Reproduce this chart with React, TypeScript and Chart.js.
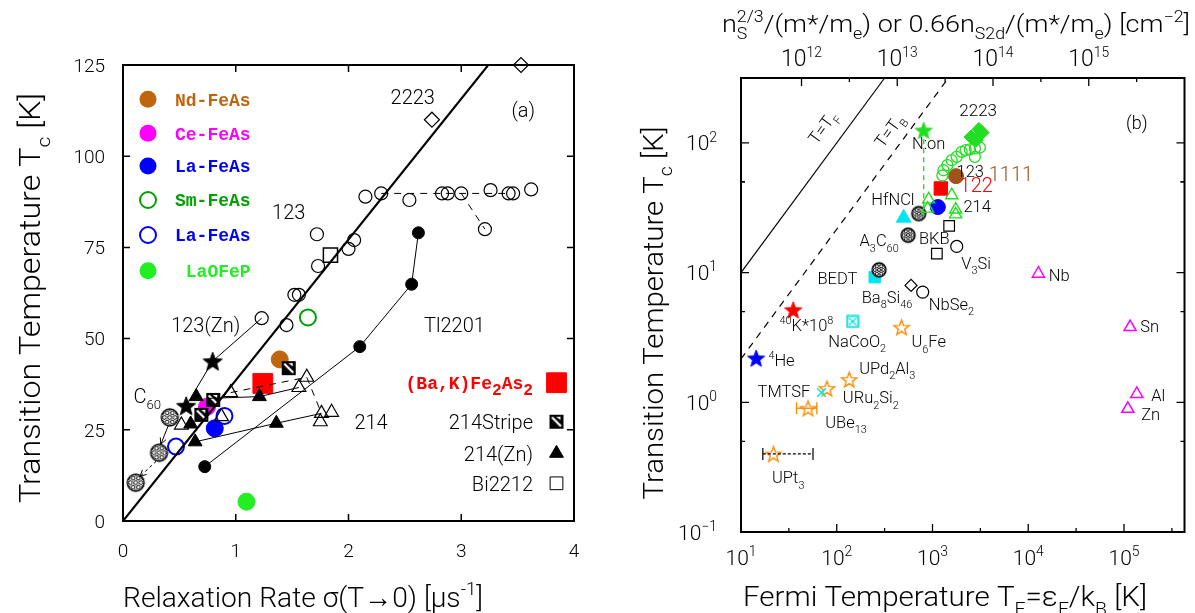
import React, { useEffect, useRef } from "react";
import { Chart, registerables } from "chart.js";
import { drawPoint } from "chart.js/helpers";
Chart.register(...registerables);

// ================= Panel (a) data =================
const fitX = [0, 3.24];
const fitY = [0, 125];
const d2223X = [2.74, 3.53];
const d2223Y = [110, 125];
const c123X = [2.15, 2.29, 2.54, 2.83, 2.88, 3.0, 3.26, 3.42, 3.46, 3.62, 3.21, 1.72, 2.05, 2.0, 1.73, 1.52, 1.56, 1.45, 1.23];
const c123Y = [88.9, 89.8, 88.0, 89.8, 89.8, 89.8, 90.7, 89.8, 89.8, 90.9, 80.0, 78.6, 77.0, 74.6, 69.9, 62.0, 62.0, 53.7, 55.6];
const dash123aX = [2.29, 3.44];
const dash123aY = [89.8, 89.8];
const dash123bX = [3.0, 3.21];
const dash123bY = [89.8, 80.0];
const tl2201X = [0.725, 2.1, 2.56, 2.62];
const tl2201Y = [14.9, 47.8, 64.9, 79.0];
const zn123LineX = [1.23, 0.795, 0.56];
const zn123LineY = [55.6, 43.8, 31.6];
const zn123StarX = [0.795, 0.56];
const zn123StarY = [43.8, 31.6];
const c60X = [0.415, 0.32, 0.113];
const c60Y = [28.4, 18.7, 10.5];
const c60Arrow1X = [0.4, 0.335];
const c60Arrow1Y = [26.0, 21.0];
const c60Arrow2X = [0.295, 0.15];
const c60Arrow2Y = [16.4, 12.2];
const t214X = [1.63, 1.56, 0.955, 1.76, 1.85, 1.75, 0.518, 0.873];
const t214Y = [39.4, 36.6, 35.2, 29.5, 29.8, 27.2, 26.3, 28.6];
const dash214aX = [0.955, 1.63];
const dash214aY = [35.2, 39.4];
const dash214bX = [1.63, 1.76];
const dash214bY = [39.4, 29.5];
const zn214X = [0.65, 1.21, 0.6, 1.36, 0.64];
const zn214Y = [34.1, 34.1, 26.6, 26.8, 21.7];
const zn214LineAX = [0.75, 1.21, 1.56];
const zn214LineAY = [33.6, 34.1, 36.6];
const zn214LineBX = [0.64, 1.36, 1.76];
const zn214LineBY = [21.7, 26.8, 29.5];
const stripeX = [1.47, 0.8, 0.695];
const stripeY = [41.9, 33.2, 29.1];
const bi2212X = [1.84];
const bi2212Y = [72.9];
const ndX = [1.39];
const ndY = [44.3];
const bakX = [1.24];
const bakY = [37.7];
const ceX = [0.745];
const ceY = [31.3];
const laFX = [0.814];
const laFY = [25.4];
const laOX = [0.9, 0.47];
const laOY = [28.8, 20.4];
const smX = [1.64];
const smY = [55.8];
const lafepX = [1.095];
const lafepY = [5.3];

const aXTicks = [0, 1, 2, 3, 4];
const aYTicks = [0, 25, 50, 75, 100, 125];
const aLegendTop = ["Nd-FeAs", "Ce-FeAs", "La-FeAs", "Sm-FeAs", "La-FeAs", " LaOFeP"];
const aLegendBottom = ["(Ba,K)Fe_2As_2", "214Stripe", "214(Zn)", "Bi2212"];
const aNotes = [
  { t: "2223", x: 2.57, y: 116.2 },
  { t: "(a)", x: 3.55, y: 112.7 },
  { t: "123", x: 1.47, y: 84.8 },
  { t: "123(Zn)", x: 0.734, y: 53.7 },
  { t: "Tl2201", x: 2.94, y: 53.7 },
  { t: "C_{60}", x: 0.215, y: 34.3 },
  { t: "214", x: 2.2, y: 27.2 },
];

// ================= Panel (b) data =================
const tfX = [10, 316.2];
const tfY = [10, 316.2];
const tbX = [10, 1465];
const tbY = [2.16, 316.2];
const nionX = [809];
const nionY = [125];
const nionDashX = [809, 809];
const nionDashY = [125, 27.7];
const g2223X = [2520, 3050, 3300, 2870];
const g2223Y = [111, 127, 120, 105];
const g123X = [1270, 1303, 1432, 1587, 1790, 2015, 2218, 2460, 2773, 3124, 2773];
const g123Y = [56, 61.5, 67.3, 73.5, 78, 85.3, 87.9, 89, 90.6, 92.1, 78];
const g214X = [912, 889, 1589, 1746, 1746];
const g214Y = [36.7, 31.1, 39.5, 30.6, 28.1];
const b1111X = [1762];
const b1111Y = [55.4];
const b122X = [1222];
const b122Y = [44.5];
const bLaX = [1137];
const bLaY = [32];
const hfnclX = [500];
const hfnclY = [26.4];
const bSoccerX = [718, 556, 277];
const bSoccerY = [28.5, 19.4, 10.5];
const bSquareX = [1493, 1111];
const bSquareY = [22.9, 14.0];
const bCircleX = [1791, 790];
const bCircleY = [15.9, 7.07];
const baSiX = [597];
const baSiY = [7.96];
const bedtX = [249];
const bedtY = [9.2];
const elemX = [12770, 115800, 136000, 109700];
const elemY = [9.8, 3.8, 1.16, 0.89];
const k40X = [35.1];
const k40Y = [5.16];
const he4X = [14.4];
const he4Y = [2.19];
const nacoX = [146.6];
const nacoY = [4.2];
const tmtsfX = [69.3];
const tmtsfY = [1.19];
const heavyX = [475, 135, 78.9, 50.1, 21.8];
const heavyY = [3.79, 1.5, 1.28, 0.9, 0.4];
const ube13ErrX = [38, 62];
const ube13ErrY = [0.9, 0.9];
const upt3ErrX = [16.9, 56.5];
const upt3ErrY = [0.4, 0.4];

const bXTicks = [1, 2, 3, 4, 5];
const bYTicks = [-1, 0, 1, 2];
const bTopTicks = [12, 13, 14, 15];
const bNotes = [
  { t: "2223", x: 3000, y: 178.7, s: 17 },
  { t: "(b)", x: 136000, y: 142.7, s: 18 },
  { t: "N:on", x: 912, y: 100 },
  { t: "123", x: 2480, y: 60.8 },
  { t: "1111", x: 6590, y: 58.1, s: 20, c: "#a0541c" },
  { t: "122", x: 2860, y: 47.1, s: 20, c: "#ff0000" },
  { t: "HfNCl", x: 386, y: 36.7 },
  { t: "214", x: 2930, y: 32.7 },
  { t: "A_3C_{60}", x: 277, y: 17.7 },
  { t: "BKB", x: 1045, y: 18.3 },
  { t: "V_3Si", x: 2860, y: 11.9 },
  { t: "BEDT", x: 101.6, y: 9.08 },
  { t: "Nb", x: 21000, y: 9.64 },
  { t: "Ba_8Si_{46}", x: 335, y: 6.47 },
  { t: "NbSe_2", x: 1578, y: 5.75 },
  { t: "^{40}K*10^8", x: 48.2, y: 3.91 },
  { t: "NaCoO_2", x: 163.6, y: 2.99 },
  { t: "U_6Fe", x: 912, y: 2.94 },
  { t: "Sn", x: 185000, y: 3.86 },
  { t: "^4He", x: 26.5, y: 2.12 },
  { t: "UPd_2Al_3", x: 337, y: 1.84 },
  { t: "TMTSF", x: 28.1, y: 1.21 },
  { t: "URu_2Si_2", x: 227, y: 1.09 },
  { t: "Al", x: 228000, y: 1.14 },
  { t: "Zn", x: 190000, y: 0.81 },
  { t: "UBe_{13}", x: 125, y: 0.71 },
  { t: "UPt_3", x: 31.1, y: 0.264 },
];
const bLineNotes = [
  { t: "T=T_F", x: 71, y: 132 },
  { t: "T=T_B", x: 351, y: 125 },
];

// ================= helpers =================
const SANS = 'Roboto, "Liberation Sans", Arial, sans-serif';
const MONO = '"Liberation Mono", "Courier New", monospace';

type Seg = { t: string; m: number };
function parseRich(s: string): Seg[] {
  const out: Seg[] = [];
  let buf = "";
  let i = 0;
  while (i < s.length) {
    const c = s[i];
    if (c === "_" || c === "^") {
      if (buf) { out.push({ t: buf, m: 0 }); buf = ""; }
      let content = "";
      if (s[i + 1] === "{") {
        const j = s.indexOf("}", i + 2);
        content = s.slice(i + 2, j);
        i = j + 1;
      } else {
        content = s[i + 1];
        i += 2;
      }
      out.push({ t: content, m: c === "_" ? 1 : 2 });
    } else {
      buf += c;
      i++;
    }
  }
  if (buf) out.push({ t: buf, m: 0 });
  return out;
}

function drawRich(ctx: CanvasRenderingContext2D, s: string, x: number, y: number, o: any) {
  const family = o.family || SANS;
  const weight = o.weight || "300";
  const size = o.size;
  const segs = parseRich(s);
  const items: any[] = [];
  let cx = 0;
  let prevSub: any = null;
  for (const sg of segs) {
    const fs = sg.m === 0 ? size : size * (o.subScale || 0.66);
    ctx.font = `${weight} ${fs}px ${family}`;
    const w = ctx.measureText(sg.t).width;
    const dy = sg.m === 1 ? size * 0.32 : sg.m === 2 ? -size * 0.42 : 0;
    if (sg.m === 2 && prevSub) {
      items.push({ t: sg.t, x: prevSub.start, dy, fs });
      cx = prevSub.start + Math.max(prevSub.w, w);
      prevSub = null;
    } else {
      items.push({ t: sg.t, x: cx, dy, fs });
      prevSub = sg.m === 1 ? { start: cx, w } : null;
      cx += w;
    }
  }
  const sx = o.width ? o.width / cx : 1;
  const W = cx * sx;
  ctx.save();
  ctx.translate(x, y);
  if (o.rot) ctx.rotate(o.rot);
  const x0 = o.align === "left" ? 0 : o.align === "right" ? -W : -W / 2;
  ctx.translate(x0, 0);
  ctx.scale(sx, 1);
  ctx.fillStyle = o.color || "#000";
  ctx.textAlign = "left";
  ctx.textBaseline = "alphabetic";
  const base = size * 0.36;
  for (const it of items) {
    ctx.font = `${weight} ${it.fs}px ${family}`;
    ctx.fillText(it.t, it.x, base + it.dy);
  }
  ctx.restore();
}

function mk(size: number) {
  const c = document.createElement("canvas");
  c.width = size;
  c.height = size;
  return [c, c.getContext("2d") as CanvasRenderingContext2D] as const;
}
function starImg(r: number, fill: string | null, stroke: string | null, lw: number) {
  const s = Math.ceil(2 * r + lw + 3);
  const [c, g] = mk(s);
  g.translate(s / 2, s / 2 + r * 0.1);
  g.beginPath();
  for (let i = 0; i < 10; i++) {
    const a = -Math.PI / 2 + (i * Math.PI) / 5;
    const rr = i % 2 === 0 ? r : r * 0.42;
    g.lineTo(rr * Math.cos(a), rr * Math.sin(a));
  }
  g.closePath();
  if (fill) { g.fillStyle = fill; g.fill(); }
  if (stroke) { g.strokeStyle = stroke; g.lineWidth = lw; g.lineJoin = "miter"; g.stroke(); }
  return c;
}
function soccerImg(r: number) {
  const s = Math.ceil(2 * r + 4);
  const [c, g] = mk(s);
  g.translate(s / 2, s / 2);
  g.beginPath();
  g.arc(0, 0, r, 0, Math.PI * 2);
  g.fillStyle = "#fff";
  g.fill();
  g.save();
  g.clip();
  g.strokeStyle = "#000";
  g.lineWidth = 1;
  const sp = r * 0.62;
  for (let j = -2; j <= 2; j++) {
    for (let i = -2; i <= 2; i++) {
      const px = i * sp + (j % 2 ? sp / 2 : 0);
      const py = j * sp * 0.87;
      g.beginPath();
      g.arc(px, py, sp * 0.36, 0, Math.PI * 2);
      g.stroke();
    }
  }
  g.restore();
  g.beginPath();
  g.arc(0, 0, r, 0, Math.PI * 2);
  g.lineWidth = 1.3;
  g.strokeStyle = "#000";
  g.stroke();
  return c;
}
function stripeImg(side: number) {
  const s = side + 2;
  const [c, g] = mk(s);
  g.fillStyle = "#000";
  g.fillRect(1, 1, side, side);
  g.strokeStyle = "#fff";
  g.lineWidth = 2.2;
  g.beginPath();
  g.moveTo(3.5, 3.5);
  g.lineTo(side - 1.5, side - 1.5);
  g.stroke();
  g.fillStyle = "#fff";
  g.beginPath();
  g.moveTo(side * 0.55, 3);
  g.lineTo(side - 2, 3);
  g.lineTo(side - 2, side * 0.45);
  g.closePath();
  g.fill();
  return c;
}
function boxXImg(side: number, color: string) {
  const s = side + 3;
  const [c, g] = mk(s);
  g.strokeStyle = color;
  g.lineWidth = 1.8;
  g.strokeRect(1.5, 1.5, side, side);
  g.lineWidth = 1.3;
  g.beginPath();
  g.moveTo(3.5, 3.5);
  g.lineTo(side - 0.5, side - 0.5);
  g.moveTo(side - 0.5, 3.5);
  g.lineTo(3.5, side - 0.5);
  g.stroke();
  return c;
}

const pts = (xs: number[], ys: number[]) => xs.map((x, i) => ({ x, y: ys[i] }));

function scat(xs: number[], ys: number[], style: any, r: number, fill: string, stroke: string, bw = 1) {
  return {
    data: pts(xs, ys),
    showLine: false,
    pointStyle: style,
    pointRadius: r,
    pointHoverRadius: r,
    backgroundColor: fill,
    borderColor: stroke,
    pointBorderWidth: bw,
    borderWidth: bw,
    clip: false,
  };
}
function line(xs: number[], ys: number[], color: string, w: number, dash: number[] = []) {
  return {
    data: pts(xs, ys),
    showLine: true,
    pointRadius: 0,
    borderColor: color,
    backgroundColor: color,
    borderWidth: w,
    borderDash: dash,
    fill: false,
    clip: false,
  };
}

const NONE = "rgba(0,0,0,0)";

function drawFrame(ctx: CanvasRenderingContext2D, a: any) {
  ctx.save();
  ctx.strokeStyle = "#000";
  ctx.lineWidth = 2;
  ctx.strokeRect(a.left, a.top, a.right - a.left, a.bottom - a.top);
  ctx.restore();
}
function tickX(ctx: CanvasRenderingContext2D, a: any, px: number, len: number, top = true, bottom = true) {
  ctx.beginPath();
  if (bottom) { ctx.moveTo(px, a.bottom); ctx.lineTo(px, a.bottom - len); }
  if (top) { ctx.moveTo(px, a.top); ctx.lineTo(px, a.top + len); }
  ctx.stroke();
}
function tickY(ctx: CanvasRenderingContext2D, a: any, py: number, len: number) {
  ctx.beginPath();
  ctx.moveTo(a.left, py); ctx.lineTo(a.left + len, py);
  ctx.moveTo(a.right, py); ctx.lineTo(a.right - len, py);
  ctx.stroke();
}

// ================= Panel (a) =================
function buildA() {
  const star = starImg(10, "#000", "#000", 1);
  const soccer = soccerImg(8.5);
  const stripe = stripeImg(14);
  const datasets: any[] = [
    line(fitX, fitY, "#000", 2),
    line(dash123aX, dash123aY, "#000", 1, [7, 6]),
    line(dash123bX, dash123bY, "#000", 1, [7, 6]),
    line(dash214aX, dash214aY, "#000", 1, [7, 6]),
    line(dash214bX, dash214bY, "#000", 1, [7, 6]),
    line(zn214LineAX, zn214LineAY, "#000", 1),
    line(zn214LineBX, zn214LineBY, "#000", 1),
    line(zn123LineX, zn123LineY, "#000", 1),
    { ...line(c60Arrow1X, c60Arrow1Y, "#000", 1), arrow: true },
    { ...line(c60Arrow2X, c60Arrow2Y, "#000", 1, [3, 3]), arrow: true },
    { ...scat(tl2201X, tl2201Y, "circle", 6, "#000", "#000"), showLine: true, borderWidth: 1 },
    scat(c123X, c123Y, "circle", 6.5, NONE, "#000", 1.2),
    scat(d2223X, d2223Y, "rectRot", 7.5, NONE, "#000", 1.2),
    scat(bi2212X, bi2212Y, "rect", 10, NONE, "#000", 1.5),
    scat(t214X, t214Y, "triangle", 8, NONE, "#000", 1.2),
    scat(zn214X, zn214Y, "triangle", 8, "#000", "#000", 1),
    scat(zn123StarX, zn123StarY, star, 10, "#000", "#000"),
    scat(c60X, c60Y, soccer, 8, "#fff", "#000"),
    scat(stripeX, stripeY, stripe, 8, "#000", "#000"),
    scat(ndX, ndY, "circle", 8.5, "#c0650f", "#c0650f"),
    scat(bakX, bakY, "rect", 14, "#ff0000", "#ff0000"),
    scat(ceX, ceY, "circle", 8.5, "#ff00ff", "#ff00ff"),
    scat(laFX, laFY, "circle", 8.5, "#0000ff", "#0000ff"),
    scat(laOX, laOY, "circle", 8, NONE, "#0000ff", 2),
    scat(smX, smY, "circle", 8, NONE, "#00a000", 2),
    scat(lafepX, lafepY, "circle", 8.5, "#22ee22", "#22ee22"),
  ];
  const legendColors = ["#c0650f", "#ff00ff", "#0000ff", "#00a000", "#0000ff", "#22ee22"];
  const legendFilled = [true, true, true, false, false, true];
  const plugin = {
    id: "panelA",
    afterDatasetsDraw(chart: any) {
      const { ctx, chartArea: a, scales } = chart;
      const sx = scales.x, sy = scales.y;
      chart.data.datasets.forEach((ds: any, i: number) => {
        if (!ds.arrow) return;
        const m = chart.getDatasetMeta(i).data;
        const p0 = m[m.length - 2], p1 = m[m.length - 1];
        const ang = Math.atan2(p1.y - p0.y, p1.x - p0.x);
        ctx.save();
        ctx.strokeStyle = "#000";
        ctx.lineWidth = 1;
        ctx.beginPath();
        ctx.moveTo(p1.x - 7 * Math.cos(ang - 0.45), p1.y - 7 * Math.sin(ang - 0.45));
        ctx.lineTo(p1.x, p1.y);
        ctx.lineTo(p1.x - 7 * Math.cos(ang + 0.45), p1.y - 7 * Math.sin(ang + 0.45));
        ctx.stroke();
        ctx.restore();
      });
      drawFrame(ctx, a);
      ctx.save();
      ctx.strokeStyle = "#000";
      ctx.lineWidth = 1.5;
      aXTicks.forEach((v) => tickX(ctx, a, sx.getPixelForValue(v), 7));
      aYTicks.forEach((v) => tickY(ctx, a, sy.getPixelForValue(v), 7));
      ctx.restore();
      aXTicks.forEach((v) => drawRich(ctx, String(v), sx.getPixelForValue(v), a.bottom + 29, { size: 19 }));
      aYTicks.forEach((v) => drawRich(ctx, String(v), a.left - 18, sy.getPixelForValue(v), { size: 19, align: "right" }));
      drawRich(ctx, "Transition Temperature T_c [K]", 30, 298, { size: 29, rot: -Math.PI / 2, width: 410 });
      drawRich(ctx, "Relaxation Rate σ(T→0) [μs^{-1}]", 303, 597, { size: 28, width: 360 });
      aNotes.forEach((n) => drawRich(ctx, n.t, sx.getPixelForValue(n.x), sy.getPixelForValue(n.y), { size: 20 }));
      const ly = [34.3, 68.3, 101, 135, 170, 205.7];
      aLegendTop.forEach((t, i) => {
        const px = a.left + 25, py = a.top + ly[i];
        ctx.save();
        ctx.beginPath();
        ctx.arc(px, py, legendFilled[i] ? 8.5 : 8, 0, Math.PI * 2);
        if (legendFilled[i]) { ctx.fillStyle = legendColors[i]; ctx.fill(); }
        else { ctx.strokeStyle = legendColors[i]; ctx.lineWidth = 2; ctx.stroke(); }
        ctx.restore();
        drawRich(ctx, t, a.left + 52, py, { size: 18, family: MONO, weight: "bold", color: legendColors[i], align: "left" });
      });
      const by = [-138.3, -99.3, -67.7, -37.7];
      const mstyles: any[] = ["rect", stripe, "triangle", "rect"];
      const mr = [14, 8, 8, 9];
      const mfill = ["#ff0000", "#000", "#000", NONE];
      aLegendBottom.forEach((t, i) => {
        const py = a.bottom + by[i];
        if (i === 0) {
          drawRich(ctx, t, a.right - 41, py, { size: 18, family: MONO, weight: "bold", color: "#ff0000", align: "right", subScale: 0.9 });
        } else {
          drawRich(ctx, t, a.right - 41, py, { size: 20, align: "right" });
        }
        ctx.save();
        ctx.fillStyle = mfill[i];
        ctx.strokeStyle = i === 0 ? "#ff0000" : "#000";
        drawPoint(ctx, { pointStyle: mstyles[i], rotation: 0, radius: mr[i], borderWidth: 1.5 } as any, a.right - 17.5, py);
        ctx.restore();
      });
    },
  };
  return {
    type: "scatter",
    data: { datasets },
    options: {
      responsive: false,
      animation: false,
      events: [],
      layout: { padding: { left: 123, right: 26, top: 65, bottom: 92 } },
      plugins: { legend: { display: false }, tooltip: { enabled: false } },
      scales: {
        x: { type: "linear", min: 0, max: 4, display: false },
        y: { type: "linear", min: 0, max: 125, display: false },
      },
    },
    plugins: [plugin],
  };
}

// ================= Panel (b) =================
function buildB() {
  const gStar = starImg(9, "#22dd22", "#22dd22", 1);
  const rStar = starImg(9, "#ff0000", "#ff0000", 1);
  const bStar = starImg(9, "#0000ff", "#0000ff", 1);
  const oStar = starImg(8, null, "#ff8c00", 1.4);
  const soccer = soccerImg(7);
  const boxX = boxXImg(11, "#00dddd");
  const G = "#22dd22";
  const datasets: any[] = [
    line(tfX, tfY, "#000", 1.2),
    line(tbX, tbY, "#000", 1.2, [7, 6]),
    line(nionDashX, nionDashY, G, 1.4, [5, 4]),
    { ...line(ube13ErrX, ube13ErrY, "#ff8c00", 1.4), pointStyle: "line", pointRotation: 90, pointRadius: 6, pointBorderWidth: 1.4 },
    { ...line(upt3ErrX, upt3ErrY, "#000", 1.2, [3, 2]), pointStyle: "line", pointRotation: 90, pointRadius: 6, pointBorderWidth: 1.2 },
    scat(g123X, g123Y, "circle", 5.5, NONE, G, 1.3),
    scat(g2223X, g2223Y, "rectRot", 7, G, G, 1),
    scat(g214X, g214Y, "triangle", 7, NONE, G, 1.4),
    scat(nionX, nionY, gStar, 9, G, G),
    scat(b1111X, b1111Y, "circle", 7.5, "#a0541c", "#a0541c"),
    scat(b122X, b122Y, "rect", 9.5, "#ff0000", "#ff0000"),
    scat(bLaX, bLaY, "circle", 7.5, "#0000ff", "#0000ff"),
    scat(hfnclX, hfnclY, "triangle", 8.5, "#00e5ee", "#00e5ee"),
    scat(bSoccerX, bSoccerY, soccer, 7, "#fff", "#000"),
    scat(bSquareX, bSquareY, "rect", 7.5, NONE, "#000", 1.2),
    scat(bCircleX, bCircleY, "circle", 6, NONE, "#000", 1.2),
    scat(baSiX, baSiY, "rectRot", 6, NONE, "#000", 1.2),
    scat(bedtX, bedtY, "rect", 8, "#00e5ee", "#00e5ee"),
    scat(elemX, elemY, "triangle", 7, NONE, "#ff00ff", 1.5),
    scat(k40X, k40Y, rStar, 9, "#f00", "#f00"),
    scat(he4X, he4Y, bStar, 9, "#00f", "#00f"),
    scat(nacoX, nacoY, boxX, 7, NONE, "#00dddd"),
    scat(tmtsfX, tmtsfY, "crossRot", 6, NONE, "#00e5ee", 1.5),
    scat(heavyX, heavyY, oStar, 8, NONE, "#ff8c00"),
  ];
  const plugin = {
    id: "panelB",
    afterDatasetsDraw(chart: any) {
      const { ctx, chartArea: a, scales } = chart;
      const sx = scales.x, sy = scales.y, st = scales.x2;
      drawFrame(ctx, a);
      ctx.save();
      ctx.strokeStyle = "#000";
      ctx.lineWidth = 1.3;
      bXTicks.forEach((e) => {
        tickX(ctx, a, sx.getPixelForValue(10 ** e), 8, false, true);
        tickX(ctx, a, sx.getPixelForValue(10 ** (e + 0.5)), 4, false, true);
      });
      bTopTicks.forEach((e) => {
        tickX(ctx, a, st.getPixelForValue(10 ** e), 8, true, false);
        tickX(ctx, a, st.getPixelForValue(10 ** (e + 0.5)), 4, true, false);
      });
      bYTicks.forEach((e) => {
        tickY(ctx, a, sy.getPixelForValue(10 ** e), 8);
        if (e < 2) tickY(ctx, a, sy.getPixelForValue(5 * 10 ** e), 4);
      });
      tickY(ctx, a, sy.getPixelForValue(50), 4);
      ctx.restore();
      bXTicks.forEach((e) => drawRich(ctx, `10^${e}`, sx.getPixelForValue(10 ** e), a.bottom + 25, { size: 21 }));
      bYTicks.forEach((e) => drawRich(ctx, e < 0 ? `10^{−${-e}}` : `10^${e}`, a.left - 24, sy.getPixelForValue(10 ** e), { size: 21, align: "right" }));
      bTopTicks.forEach((e) => drawRich(ctx, `10^{${e}}`, st.getPixelForValue(10 ** e), a.top - 20, { size: 23, subScale: 0.6 }));
      drawRich(ctx, "Transition Temperature T_c [K]", 53, 313, { size: 28, rot: -Math.PI / 2, width: 373 });
      drawRich(ctx, "Fermi Temperature T_F=ε_F/k_B [K]", 345, 596, { size: 28, width: 404 });
      drawRich(ctx, "n_S^{2/3}/(m*/m_e) or 0.66n_{S2d}/(m*/m_e) [cm^{−2}]", 356, 23, { size: 24, width: 468 });
      bNotes.forEach((n: any) => drawRich(ctx, n.t, sx.getPixelForValue(n.x), sy.getPixelForValue(n.y), { size: n.s || 16.5, color: n.c || "#000" }));
      const ang = Math.atan2(sy.getPixelForValue(100) - sy.getPixelForValue(10), sx.getPixelForValue(100) - sx.getPixelForValue(10));
      bLineNotes.forEach((n) => drawRich(ctx, n.t, sx.getPixelForValue(n.x), sy.getPixelForValue(n.y), { size: 17, rot: ang }));
    },
  };
  return {
    type: "scatter",
    data: { datasets },
    options: {
      responsive: false,
      animation: false,
      events: [],
      layout: { padding: { left: 141, right: 7, top: 78, bottom: 81 } },
      plugins: { legend: { display: false }, tooltip: { enabled: false } },
      scales: {
        x: { type: "logarithmic", min: 10, max: 10 ** 5.632, display: false },
        y: { type: "logarithmic", min: 0.1, max: 10 ** 2.5, display: false },
        x2: { type: "logarithmic", axis: "x", position: "top", min: 10 ** 11.368, max: 1e16, display: false },
      },
    },
    plugins: [plugin],
  };
}

function Panel({ build, left, width }: { build: () => any; left: number; width: number }) {
  const ref = useRef<HTMLCanvasElement>(null);
  useEffect(() => {
    const chart = new Chart(ref.current as HTMLCanvasElement, build());
    return () => chart.destroy();
  }, []);
  return (
    <canvas
      ref={ref}
      width={width}
      height={613}
      style={{ position: "absolute", left, top: 0, width, height: 613 }}
    />
  );
}

export default function App() {
  return (
    <div style={{ position: "absolute", left: 0, top: 0, width: 1195, height: 613, background: "#fff" }}>
      <Panel build={buildA} left={0} width={600} />
      <Panel build={buildB} left={600} width={595} />
    </div>
  );
}
